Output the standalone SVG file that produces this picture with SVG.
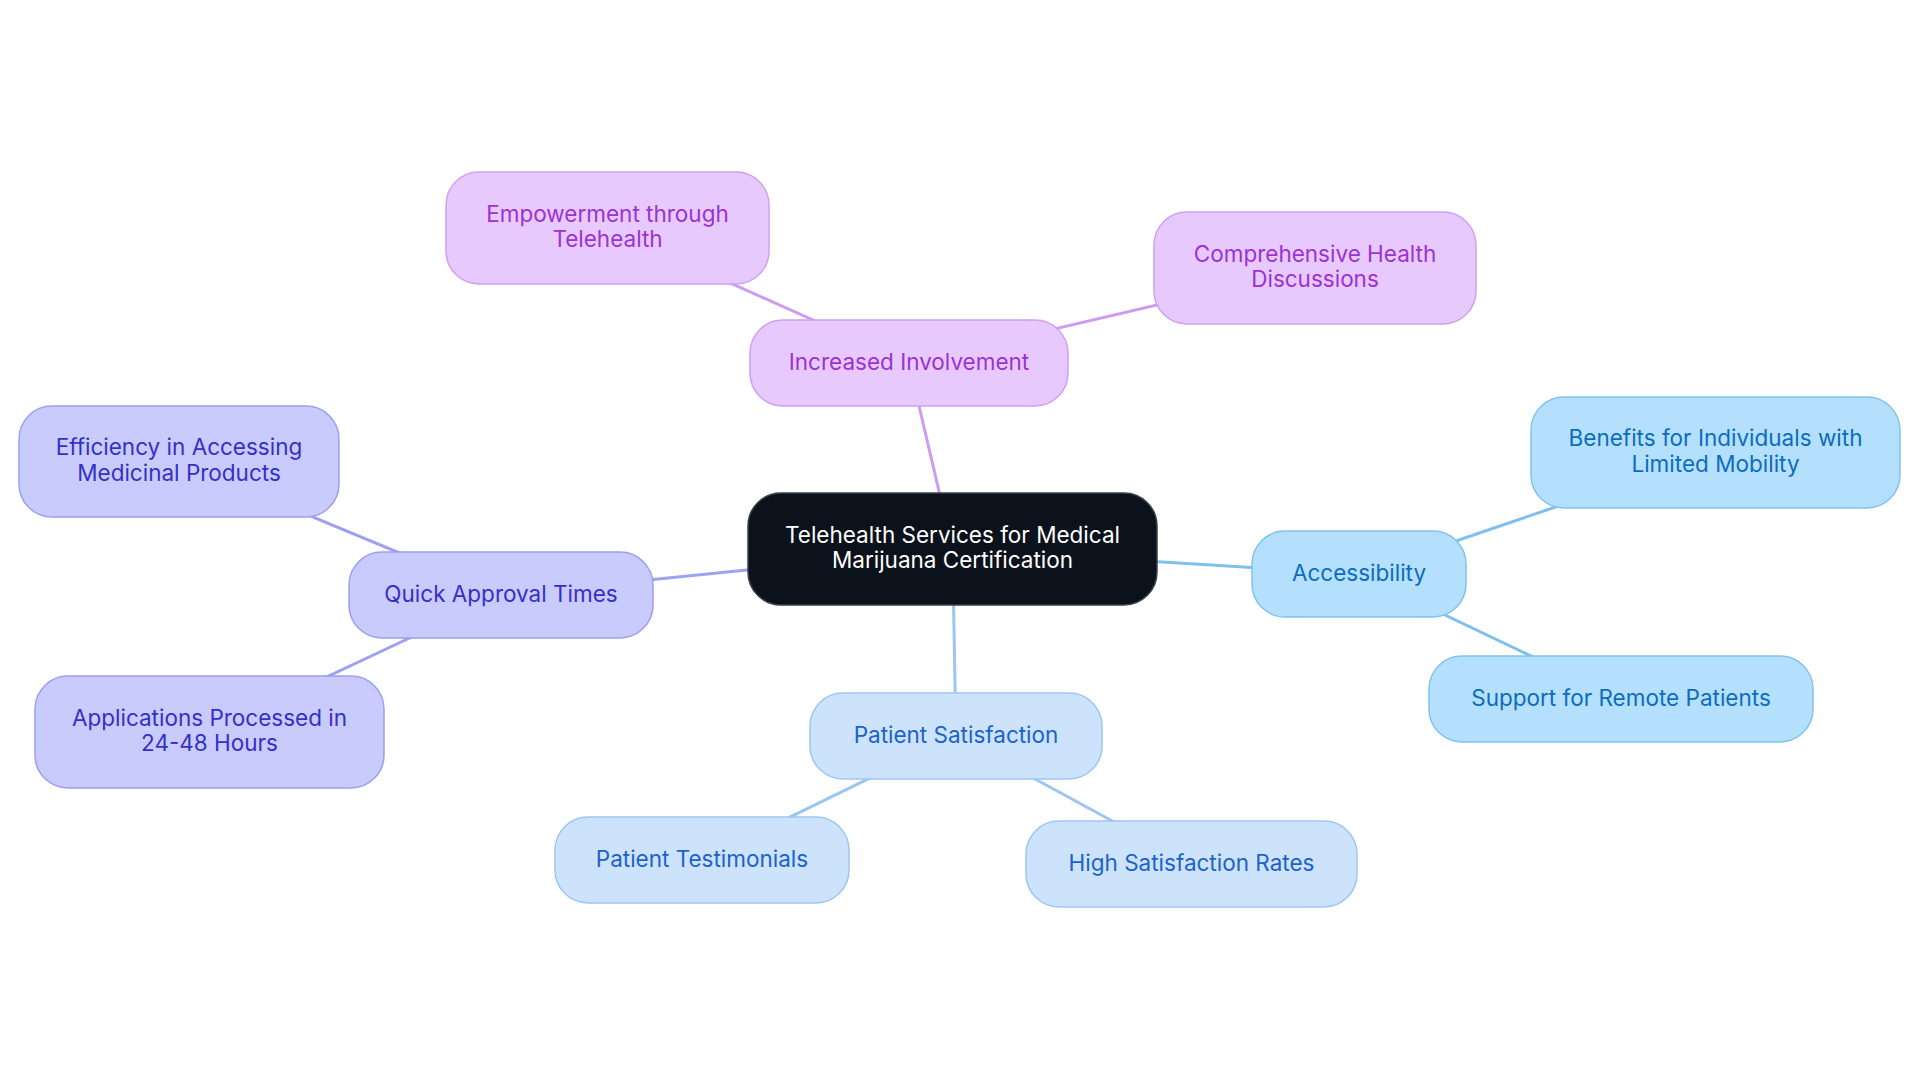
<svg xmlns="http://www.w3.org/2000/svg" width="1920" height="1083" viewBox="0 0 1920 1083">
<style>
text{font-family:Inter,"Noto Sans","Liberation Sans",sans-serif;font-size:22.5px;text-anchor:middle}
.e{stroke-width:3;fill:none;stroke-linecap:round}
.ep{stroke:#cc9cf3}.ei{stroke:#9ea0f1}.eb{stroke:#9cc5f0}.es{stroke:#7ec0ef}
.n rect{stroke-width:1.5}
.c rect{fill:#0c121b;stroke:#3a4049}.c text{fill:#ffffff}
.p rect{fill:#e8c9fd;stroke:#cf9ff3}.p text{fill:#9a32d6}
.i rect{fill:#c9cbfd;stroke:#9c9ff1}.i text{fill:#3330c9}
.b rect{fill:#cde3fb;stroke:#9dc6f1}.b text{fill:#1b62cc}
.s rect{fill:#b5e0fd;stroke:#80c2f0}.s text{fill:#0c6cc0}
</style>
<rect width="1920" height="1083" fill="#ffffff"/>
<g id="connectors">
<line class="e ep" x1="952.5" y1="549" x2="909" y2="363"/>
<line class="e ep" x1="909" y1="363" x2="607.5" y2="228"/>
<line class="e ep" x1="909" y1="363" x2="1315" y2="268"/>
<line class="e es" x1="952.5" y1="549" x2="1359" y2="574"/>
<line class="e es" x1="1359" y1="574" x2="1715.5" y2="452.5"/>
<line class="e es" x1="1359" y1="574" x2="1621" y2="699"/>
<line class="e eb" x1="952.5" y1="549" x2="956" y2="736"/>
<line class="e eb" x1="956" y1="736" x2="702" y2="860"/>
<line class="e eb" x1="956" y1="736" x2="1191.5" y2="864"/>
<line class="e ei" x1="952.5" y1="549" x2="501" y2="595"/>
<line class="e ei" x1="501" y1="595" x2="179" y2="461.5"/>
<line class="e ei" x1="501" y1="595" x2="209.5" y2="732"/>
</g>
<g id="central" class="n c">
<rect x="748" y="493" width="409" height="112" rx="33"/>
<text x="952.5" y="543">Telehealth Services for Medical</text>
<text x="952.5" y="568">Marijuana Certification</text>
</g>
<g id="increased-involvement" class="n p">
<rect x="750" y="320" width="318" height="86" rx="33"/>
<text x="909" y="370">Increased Involvement</text>
</g>
<g id="empowerment" class="n p">
<rect x="446" y="172" width="323" height="112" rx="33"/>
<text x="607.5" y="222">Empowerment through</text>
<text x="607.5" y="247">Telehealth</text>
</g>
<g id="comprehensive" class="n p">
<rect x="1154" y="212" width="322" height="112" rx="33"/>
<text x="1315" y="262">Comprehensive Health</text>
<text x="1315" y="287">Discussions</text>
</g>
<g id="accessibility" class="n s">
<rect x="1252" y="531" width="214" height="86" rx="33"/>
<text x="1359" y="581">Accessibility</text>
</g>
<g id="benefits" class="n s">
<rect x="1531" y="397" width="369" height="111" rx="33"/>
<text x="1715.5" y="446">Benefits for Individuals with</text>
<text x="1715.5" y="472">Limited Mobility</text>
</g>
<g id="support" class="n s">
<rect x="1429" y="656" width="384" height="86" rx="33"/>
<text x="1621" y="706">Support for Remote Patients</text>
</g>
<g id="patient-satisfaction" class="n b">
<rect x="810" y="693" width="292" height="86" rx="33"/>
<text x="956" y="743">Patient Satisfaction</text>
</g>
<g id="testimonials" class="n b">
<rect x="555" y="817" width="294" height="86" rx="33"/>
<text x="702" y="867">Patient Testimonials</text>
</g>
<g id="high-satisfaction" class="n b">
<rect x="1026" y="821" width="331" height="86" rx="33"/>
<text x="1191.5" y="871">High Satisfaction Rates</text>
</g>
<g id="quick-approval" class="n i">
<rect x="349" y="552" width="304" height="86" rx="33"/>
<text x="501" y="602">Quick Approval Times</text>
</g>
<g id="efficiency" class="n i">
<rect x="19" y="406" width="320" height="111" rx="33"/>
<text x="179" y="455">Efficiency in Accessing</text>
<text x="179" y="481">Medicinal Products</text>
</g>
<g id="applications" class="n i">
<rect x="35" y="676" width="349" height="112" rx="33"/>
<text x="209.5" y="726">Applications Processed in</text>
<text x="209.5" y="751">24-48 Hours</text>
</g>
</svg>
